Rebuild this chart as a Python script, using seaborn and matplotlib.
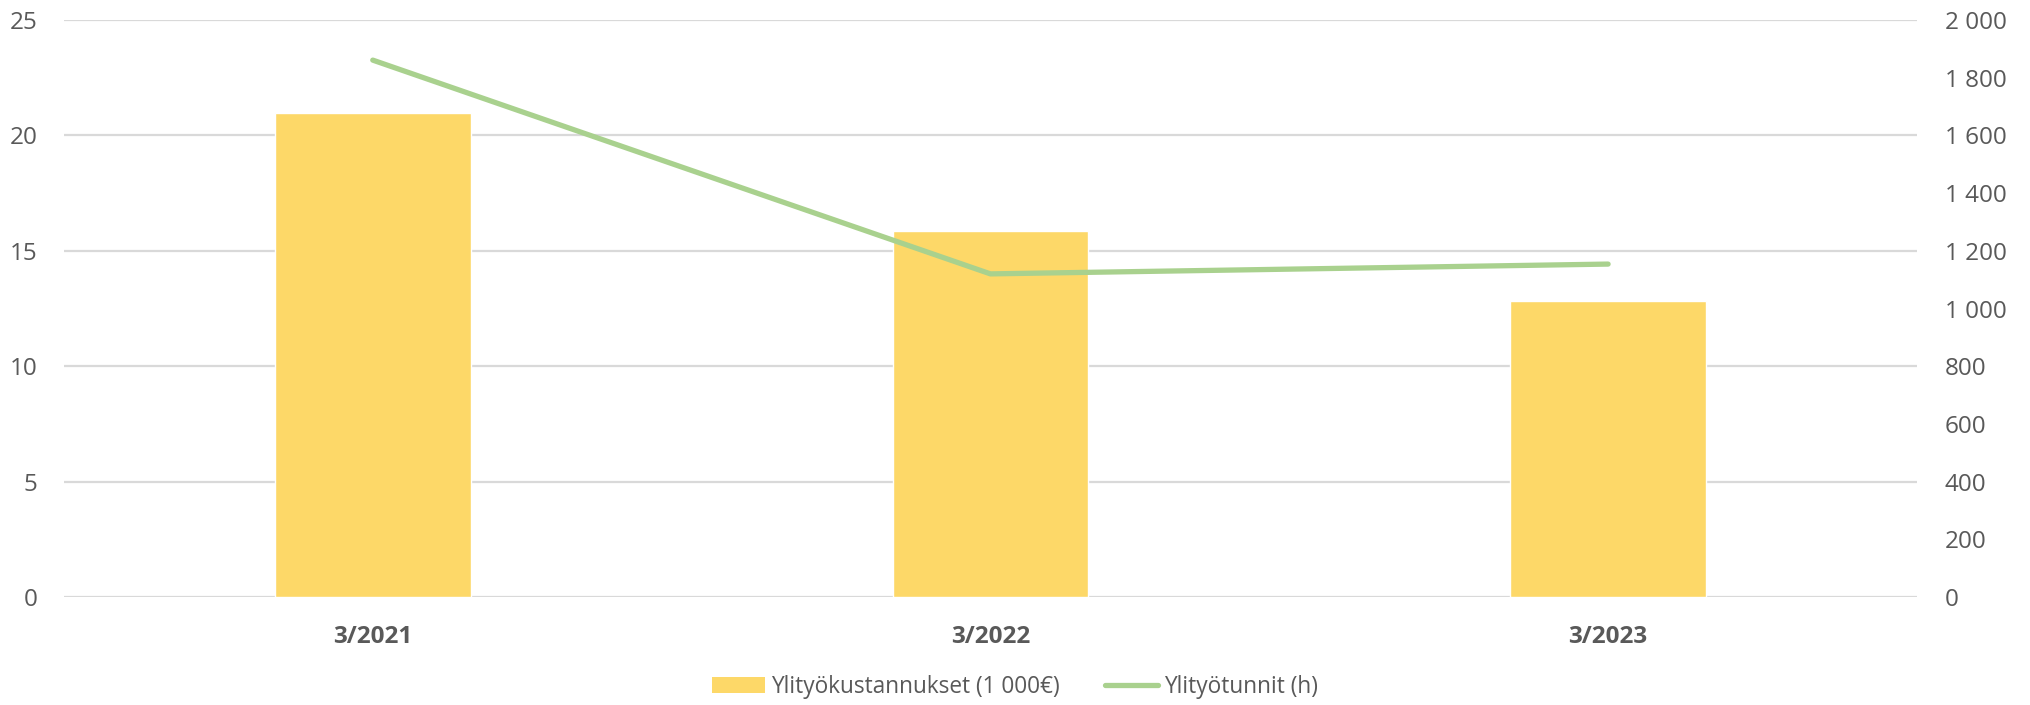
import matplotlib
matplotlib.use("Agg")
import matplotlib.pyplot as plt
import seaborn as sns
import pandas as pd
from matplotlib.lines import Line2D
from matplotlib.patches import Patch
from matplotlib.ticker import FuncFormatter, MultipleLocator

categories = ["3/2021", "3/2022", "3/2023"]
costs = [20.97, 15.86, 12.83]          # Ylityökustannukset (1 000€)
hours = [1861, 1120, 1154]             # Ylityötunnit (h)
cost_label = "Ylityökustannukset (1 000€)"
hours_label = "Ylityötunnit (h)"

bar_color = "#FDD868"
line_color = "#A9D18E"
text_color = "#595959"
grid_color = "#D9D9D9"

sns.set_theme(style="white")
plt.rcParams["font.family"] = ["Open Sans", "DejaVu Sans"]

fig = plt.figure(figsize=(20.30, 7.05), dpi=100)
ax = fig.add_axes([0.0315, 0.1532, 0.9128, 0.8184])

df = pd.DataFrame({"cat": categories, "cost": costs, "hours": hours})
sns.barplot(data=df, x="cat", y="cost", color=bar_color, width=0.317,
            saturation=1, ax=ax, zorder=2)
ax.set_xlim(-0.5, 2.5)
ax.set_ylim(0, 25)
ax.yaxis.set_major_locator(MultipleLocator(5))
ax.grid(axis="y", color=grid_color, linewidth=1.6, zorder=0)
ax.grid(axis="x", visible=False)
ax.set_axisbelow(True)
for s in ax.spines.values():
    s.set_visible(False)
ax.set_xlabel("")
ax.set_ylabel("")
ax.tick_params(axis="y", length=0, pad=19, labelsize=17.5, labelcolor=text_color)
ax.tick_params(axis="x", length=0, pad=20, labelsize=17.5, labelcolor=text_color)
for lbl in ax.get_xticklabels():
    lbl.set_fontweight("bold")

ax2 = ax.twinx()
sns.lineplot(x=[0, 1, 2], y=hours, color=line_color, linewidth=3.8, ax=ax2,
             solid_capstyle="round", solid_joinstyle="round", zorder=3)
ax2.set_ylim(0, 2000)
ax2.yaxis.set_major_locator(MultipleLocator(200))
ax2.yaxis.set_major_formatter(FuncFormatter(lambda v, p: f"{int(v):,}".replace(",", " ")))
ax2.tick_params(axis="y", length=0, pad=20, labelsize=17.5, labelcolor=text_color)
ax2.grid(False)
for s in ax2.spines.values():
    s.set_visible(False)
ax2.set_ylabel("")

handles = [Patch(facecolor=bar_color, edgecolor="none"),
           Line2D([0], [0], color=line_color, linewidth=3.8, solid_capstyle="round")]
fig.legend(handles, [cost_label, hours_label], loc="center",
           bbox_to_anchor=(0.5, 1 - 687 / 705), ncol=2, frameon=False,
           fontsize=16.3, labelcolor=text_color, handlelength=2.35,
           handletextpad=0.25, columnspacing=2.0)

fig.savefig("out.png", dpi=100)
